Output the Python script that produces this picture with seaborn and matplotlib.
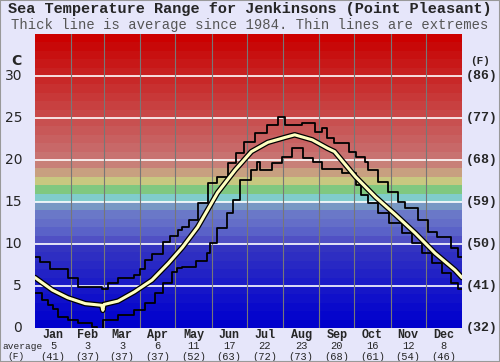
import matplotlib
matplotlib.use("Agg")
import matplotlib.pyplot as plt
import matplotlib.patheffects as pe
import pandas as pd
import seaborn as sns

# values (day of year, deg C)
max_day = [0, 4, 13, 28, 37, 57, 62, 71, 85, 90, 94, 100, 109, 115, 122, 126, 132, 139, 148, 156,
           165, 172, 179, 188, 198, 208, 214, 228, 239, 245, 250, 256, 268, 274, 282, 285, 293, 302,
           310, 316, 327, 336, 344, 356, 362, 365]
max_temp = [8.5, 7.9, 7.0, 6.0, 4.9, 4.6, 5.4, 6.0, 6.3, 7.0, 8.1, 8.8, 10.2, 11.0, 11.7, 12.0, 12.9,
            14.9, 17.3, 18.0, 19.6, 20.8, 22.1, 23.2, 24.2, 25.1, 24.2, 24.4, 23.3, 23.8, 22.6, 22.0,
            21.0, 20.4, 19.8, 18.8, 17.4, 16.2, 15.0, 14.3, 12.9, 11.4, 10.8, 9.5, 8.5, 8.5]

min_day = [0, 6, 11, 15, 20, 28, 37, 49, 53, 58, 71, 85, 94, 103, 109, 117, 121, 126, 138, 147,
           150, 156, 164, 169, 175, 185, 190, 192, 203, 211, 220, 229, 238, 245, 262, 274, 279, 285,
           293, 303, 314, 322, 331, 339, 348, 356, 362, 365]
min_temp = [4.2, 3.3, 2.7, 2.2, 1.3, 1.0, 0.6, 0.1, -0.2, 1.0, 1.5, 2.1, 3.0, 4.2, 5.4, 6.7, 7.1, 7.3,
            8.0, 8.9, 10.1, 11.9, 13.7, 15.2, 17.6, 18.8, 19.8, 18.8, 19.6, 20.4, 21.4, 20.2, 19.8,
            18.9, 18.4, 17.0, 15.8, 14.9, 13.7, 12.5, 11.3, 10.1, 8.9, 7.7, 6.5, 5.4, 4.6, 4.6]

avg_day = [0, 15, 28, 43, 57, 58, 59, 71, 85, 100, 114, 126, 139, 156, 171, 185, 199, 214, 222,
           237, 250, 256, 274, 291, 308, 325, 342, 359, 365]
avg_temp = [6.0, 4.5, 3.6, 2.9, 2.7, 2.1, 2.8, 3.2, 4.3, 5.7, 7.7, 9.6, 12.0, 16.1, 18.8, 21.0, 22.1,
            22.7, 23.0, 22.4, 21.4, 21.0, 18.0, 15.6, 13.5, 11.3, 8.9, 6.9, 6.0]

months = ["Jan", "Feb", "Mar", "Apr", "May", "Jun", "Jul", "Aug", "Sep", "Oct", "Nov", "Dec"]
month_start = [0, 31, 59, 90, 120, 151, 181, 212, 243, 273, 304, 334, 365]
month_avg_c = ["5", "3", "3", "6", "11", "17", "22", "23", "20", "16", "12", "8"]
month_avg_f = ["(41)", "(37)", "(37)", "(37)", "(52)", "(63)", "(72)", "(73)", "(68)", "(61)", "(54)", "(46)"]

c_ticks = [0, 5, 10, 15, 20, 25, 30]
f_labels = ["(32)", "(41)", "(50)", "(59)", "(68)", "(77)", "(86)"]

# one colour band per degree, 0 at the bottom up to 35
band_colors = ["#0000cc", "#0505cc", "#0a0acb", "#1010ca", "#1616c8", "#1c1cc7", "#2222c5", "#2828c4",
               "#2e2ec2", "#3434c0", "#5050c4", "#5a62c8", "#646ec8", "#6a78c8", "#7898c4", "#80cccc",
               "#80c880", "#c8c880", "#c8a080", "#c88078", "#c87270", "#c86868", "#c86060", "#c85858",
               "#c85050", "#c84848", "#c84040", "#c83838", "#c83030", "#c82828", "#c82020", "#c81818",
               "#c81010", "#c80808", "#cc0000"]

df_max = pd.DataFrame({"day": max_day, "temp": max_temp})
df_min = pd.DataFrame({"day": min_day, "temp": min_temp})
df_avg = pd.DataFrame({"day": avg_day, "temp": avg_temp})

sns.set_theme(style="white")
bg = "#e6e6fa"
fig = plt.figure(figsize=(5, 3.62), dpi=100, facecolor=bg)
ax = fig.add_axes([0.07, 0.094, 0.854, 0.812])
ax.set_facecolor(bg)

for i, col in enumerate(band_colors):
    ax.axhspan(i, i + 1, color=col, lw=0, zorder=0)
for t in c_ticks[1:]:
    ax.axhline(t, color="white", lw=1.2, zorder=1)
for d in month_start[1:-1]:
    ax.axvline(d, color="#777777", lw=0.8, zorder=1)

sns.lineplot(data=df_max, x="day", y="temp", ax=ax, color="black", lw=1.3,
             drawstyle="steps-post", zorder=3)
sns.lineplot(data=df_min, x="day", y="temp", ax=ax, color="black", lw=1.3,
             drawstyle="steps-post", zorder=3)
sns.lineplot(data=df_avg, x="day", y="temp", ax=ax, color="#ffffc0", lw=2.2, zorder=4,
             path_effects=[pe.Stroke(linewidth=4.0, foreground="black"), pe.Normal()])

ax.set_xlim(0, 365)
ax.set_ylim(0, 35)
ax.set_xlabel("")
ax.set_ylabel("")
ax.set_xticks([])
ax.set_yticks([])
for s in ax.spines.values():
    s.set_visible(False)

# left Celsius labels
for t in c_ticks:
    ax.text(-11, t, str(t), ha="right", va="center", fontsize=10, family="DejaVu Sans",
            clip_on=False)
ax.text(-15.5, 31.8, "C", ha="center", va="center", fontsize=10, family="DejaVu Sans",
        fontweight="bold", clip_on=False)
# right Fahrenheit labels
for t, lab in zip(c_ticks, f_labels):
    ax.text(368, t, lab, ha="left", va="center", fontsize=9.5, family="Liberation Mono",
            fontweight="bold", clip_on=False)
ax.text(372, 31.8, "(F)", ha="left", va="center", fontsize=8, family="Liberation Mono",
        fontweight="bold", clip_on=False)

# month labels with monthly averages
for i, m in enumerate(months):
    mid = (month_start[i] + month_start[i + 1]) / 2
    ax.text(mid, -0.8, m, ha="center", va="center", fontsize=8.5, family="Liberation Mono",
            fontweight="bold", clip_on=False)
    ax.text(mid, -2.2, month_avg_c[i], ha="center", va="center", fontsize=7.5,
            family="Liberation Mono", clip_on=False)
    ax.text(mid, -3.4, month_avg_f[i], ha="center", va="center", fontsize=7.5,
            family="Liberation Mono", clip_on=False)
ax.text(-28, -2.2, "average", ha="left", va="center", fontsize=6.8, family="Liberation Mono",
        clip_on=False)
ax.text(-16, -3.4, "(F)", ha="center", va="center", fontsize=6.8, family="Liberation Mono",
        clip_on=False)

fig.text(0.5, 0.975, "Sea Temperature Range for Jenkinsons (Point Pleasant)", ha="center",
         va="center", fontsize=11, family="Liberation Mono", fontweight="bold")
fig.text(0.5, 0.93, "Thick line is average since 1984. Thin lines are extremes", ha="center",
         va="center", fontsize=10, family="Liberation Mono", color="#555555")

fig.add_artist(plt.Rectangle((0, 0), 1, 1, transform=fig.transFigure, fill=False,
                             edgecolor="#999999", lw=1.5))

fig.savefig("out.png", dpi=100, facecolor=bg)
